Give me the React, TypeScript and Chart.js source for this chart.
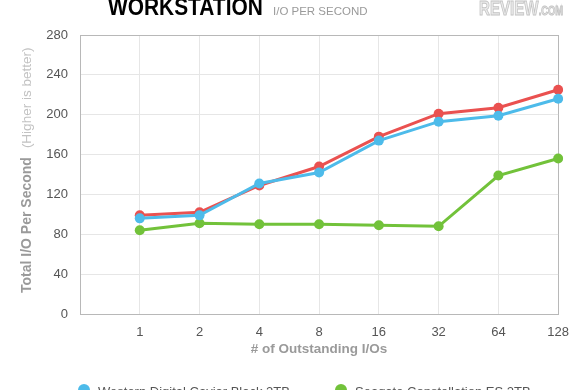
import React, { useEffect, useRef } from "react";
import { Chart, registerables } from "chart.js";

Chart.register(...registerables);

const categories = ["", "1", "2", "4", "8", "16", "32", "64", "128"];
const wdBlack = [null, 96, 99, 131, 142, 174, 193, 199, 216];
const seagateES = [null, 84, 91, 90, 90, 89, 88, 139, 156];
const thirdDrive = [null, 99, 102, 129, 148, 178, 201, 207, 225];
const seriesNames = ["Western Digital Caviar Black 2TB", "Seagate Constellation ES 2TB", "Hitachi Ultrastar 2TB"];
const yTicks = [0, 40, 80, 120, 160, 200, 240, 280];

const BLUE = "#4dbbea";
const GREEN = "#72c23a";
const RED = "#ea5150";
const FONT = 'Helvetica, Arial, "Liberation Sans", sans-serif';

const decorPlugin = {
  id: "decor",
  afterDraw(chart: any) {
    const ctx = chart.ctx;
    const a = chart.chartArea;
    ctx.save();
    // header
    ctx.fillStyle = "#000";
    ctx.font = `bold 22px ${FONT}`;
    ctx.textBaseline = "alphabetic";
    ctx.textAlign = "left";
    ctx.save();
    ctx.translate(108, 15);
    ctx.scale(0.95, 1.05);
    ctx.fillText("WORKSTATION", 0, 0);
    ctx.restore();
    ctx.fillStyle = "#9a9a9a";
    ctx.font = `11.5px ${FONT}`;
    ctx.fillText("I/O PER SECOND", 273, 15);
    // logo
    ctx.save();
    ctx.translate(479, 15);
    ctx.scale(0.72, 1);
    ctx.font = `bold 21px ${FONT}`;
    ctx.fillStyle = "#ececec";
    ctx.strokeStyle = "#c4c4c4";
    ctx.lineWidth = 1;
    ctx.fillText("REVIEW", 0, 0);
    ctx.strokeText("REVIEW", 0, 0);
    const w = ctx.measureText("REVIEW").width;
    ctx.font = `bold 13px ${FONT}`;
    ctx.fillText(".COM", w, 0);
    ctx.strokeText(".COM", w, 0);
    ctx.restore();

    // y title
    ctx.save();
    ctx.translate(27, 293);
    ctx.rotate(-Math.PI / 2);
    ctx.textBaseline = "middle";
    ctx.textAlign = "left";
    ctx.font = `bold 14px ${FONT}`;
    ctx.fillStyle = "#9a9a9a";
    const t1 = "Total I/O Per Second";
    ctx.fillText(t1, 0, 0);
    const w1 = ctx.measureText(t1).width;
    ctx.font = `13.5px ${FONT}`;
    ctx.fillStyle = "#c2c2c2";
    ctx.fillText("(Higher is better)", w1 + 9, 0);
    ctx.restore();

    // x title
    ctx.textAlign = "center";
    ctx.textBaseline = "middle";
    ctx.font = `bold 13.5px ${FONT}`;
    ctx.fillStyle = "#9a9a9a";
    ctx.fillText("# of Outstanding I/Os", (a.left + a.right) / 2, 349);

    // legend
    const items = [
      { x: 84, color: BLUE, text: seriesNames[0] },
      { x: 341, color: GREEN, text: seriesNames[1] },
    ];
    ctx.textAlign = "left";
    ctx.font = `13px ${FONT}`;
    items.forEach((it) => {
      ctx.beginPath();
      ctx.fillStyle = it.color;
      ctx.arc(it.x, 390, 6, 0, Math.PI * 2);
      ctx.fill();
      ctx.fillStyle = "#555";
      ctx.fillText(it.text, it.x + 14, 392);
    });
    ctx.restore();
  },
};

export default function App() {
  const ref = useRef<HTMLCanvasElement>(null);
  useEffect(() => {
    document.body.style.margin = "0";
    const chart = new Chart(ref.current!, {
      type: "line",
      data: {
        labels: categories,
        datasets: [
          { label: seriesNames[0], data: wdBlack, borderColor: BLUE, backgroundColor: BLUE },
          { label: seriesNames[1], data: seagateES, borderColor: GREEN, backgroundColor: GREEN },
          { label: seriesNames[2], data: thirdDrive, borderColor: RED, backgroundColor: RED },
        ].map((d) => ({
          ...d,
          borderWidth: 3,
          pointRadius: 5,
          pointBorderWidth: 0,
          pointHoverRadius: 5,
          tension: 0,
        })),
      },
      options: {
        animation: false,
        responsive: false,
        layout: { padding: { top: 35, right: 20, left: 0, bottom: 0 } },
        plugins: { legend: { display: false }, tooltip: { enabled: false } },
        scales: {
          x: {
            type: "category",
            offset: false,
            afterFit: (s: any) => { s.height = 76; },
            grid: {
              drawTicks: false,
              color: (c: any) => (c.index === categories.length - 1 ? "#b8b8b8" : "#e6e6e6"),
            },
            border: { color: "#b8b8b8" },
            ticks: {
              autoSkip: false,
              maxRotation: 0,
              padding: 11,
              color: "#555",
              font: { size: 13, family: FONT },
            },
          },
          y: {
            min: 0,
            max: 280,
            afterFit: (s: any) => { s.width = 80; },
            afterBuildTicks: (s: any) => { s.ticks = yTicks.map((v) => ({ value: v })); },
            grid: {
              drawTicks: false,
              color: (c: any) => (c.tick && c.tick.value === 280 ? "#b8b8b8" : "#e6e6e6"),
            },
            border: { color: "#b8b8b8" },
            ticks: {
              padding: 12,
              color: "#555",
              font: { size: 13, family: FONT },
            },
          },
        },
      },
      plugins: [decorPlugin],
    } as any);
    return () => chart.destroy();
  }, []);
  return (
    <div style={{ position: "fixed", left: 0, top: 0, width: 580, height: 390, background: "#fff" }}>
      <canvas ref={ref} width={580} height={390} />
    </div>
  );
}
